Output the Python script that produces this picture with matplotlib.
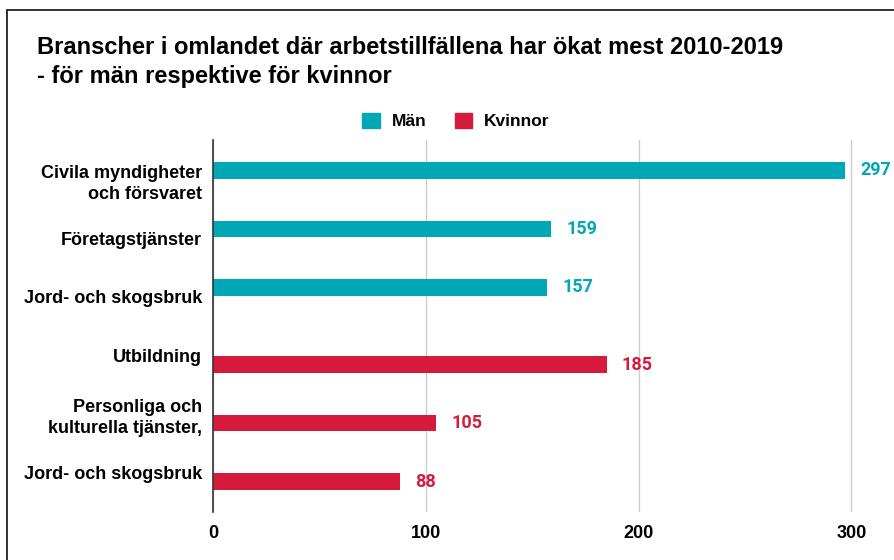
import numpy as np
import matplotlib
matplotlib.use('Agg')
from matplotlib import pyplot as plt
from matplotlib.patches import Patch, Rectangle

plt.rcParams['font.family'] = ['Liberation Sans', 'DejaVu Sans']

categories = ['Civila myndigheter\noch försvaret', 'Företagstjänster', 'Jord- och skogsbruk',
              'Utbildning', 'Personliga och\nkulturella tjänster,', 'Jord- och skogsbruk']
men = [297, 159, 157, 0, 0, 0]
women = [0, 0, 0, 185, 105, 88]
series_names = ['Män', 'Kvinnor']
xticks = [0, 100, 200, 300]

teal = '#00a8b5'
red = '#d61a3c'

fig = plt.figure(figsize=(8.94, 5.6), dpi=100)
ax = fig.add_axes([213 / 894, 48 / 560, 1 - 213 / 894, 372 / 560])

y = np.arange(len(categories))
h = 0.28
off = 0.16
for i in range(len(categories)):
    if men[i] > 0:
        ax.barh(y[i] - off, men[i], height=h, color=teal, zorder=3)
        ax.text(men[i] + 7, y[i] - off, str(men[i]), color=teal, va='center', ha='left',
                fontsize=13, fontweight='bold', family=['Roboto', 'DejaVu Sans'])
    if women[i] > 0:
        ax.barh(y[i] + off, women[i], height=h, color=red, zorder=3)
        ax.text(women[i] + 7, y[i] + off, str(women[i]), color=red, va='center', ha='left',
                fontsize=13, fontweight='bold', family=['Roboto', 'DejaVu Sans'])

ax.set_xlim(0, 320)
ax.set_ylim(len(categories) - 0.32, -0.68)
ax.set_yticks(y)
ax.set_yticklabels(categories, fontsize=13, fontweight='bold', linespacing=1.3)
ax.set_xticks(xticks)
ax.set_xticklabels([str(t) for t in xticks], fontsize=13, fontweight='bold')
ax.tick_params(length=0, pad=8)
ax.tick_params(axis='x', pad=9)
for s in ['top', 'right', 'bottom']:
    ax.spines[s].set_visible(False)
ax.spines['left'].set_color('#333333')
ax.spines['left'].set_linewidth(1.2)
ax.spines['left'].set_zorder(4)
ax.grid(axis='x', color='#cccccc', linewidth=1, zorder=0)
ax.set_axisbelow(True)

fig.text(37 / 894, 1 - 48 / 560, 'Branscher i omlandet där arbetstillfällena har ökat mest 2010-2019',
         fontsize=17, fontweight='bold', va='center', ha='left')
fig.text(37 / 894, 1 - 77 / 560, '- för män respektive för kvinnor',
         fontsize=17, fontweight='bold', va='center', ha='left')

handles = [Patch(color=teal, label=series_names[0]), Patch(color=red, label=series_names[1])]
fig.legend(handles=handles, loc='center', bbox_to_anchor=(456 / 894, 1 - 121 / 560), ncol=2,
           frameon=False, prop={'weight': 'bold', 'size': 12.5}, handlelength=1, handleheight=1,
           columnspacing=1.6, handletextpad=0.7)

fig.patches.append(Rectangle((7 / 894, -0.1), 1.2, 1.1 - 10 / 560, transform=fig.transFigure,
                             fill=False, edgecolor='#222222', linewidth=1.3))

fig.savefig('out.png', dpi=100)
